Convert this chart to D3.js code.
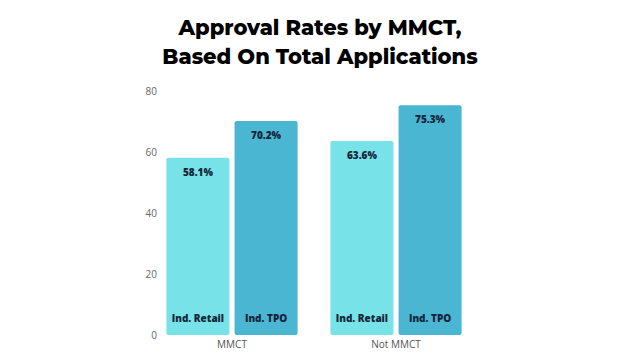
<!DOCTYPE html>
<html>
<head>
<meta charset="utf-8">
<script src="https://cdn.jsdelivr.net/npm/d3@7"></script>
<style>
  body { margin: 0; background: #fff; }
  svg { display: block; }
</style>
</head>
<body>
<svg width="640" height="360"></svg>
<script>
var groups = ["MMCT", "Not MMCT"];
var channels = ["Ind. Retail", "Ind. TPO"];
var retailValues = [58.1, 63.6];
var tpoValues = [70.2, 75.3];
var yTicks = [0, 20, 40, 60, 80];

var colors = { "Ind. Retail": "#77e2e7", "Ind. TPO": "#4ab6d2" };

var data = groups.map(function (g, i) {
  return { group: g, values: [
    { channel: channels[0], value: retailValues[i] },
    { channel: channels[1], value: tpoValues[i] }
  ] };
});

var svg = d3.select("svg");

// title
svg.append("text")
  .attr("x", 320).attr("y", 35)
  .attr("text-anchor", "middle")
  .style("font-family", "Montserrat, 'Open Sans', sans-serif")
  .style("font-weight", "800")
  .style("font-size", "21px")
  .attr("fill", "#000")
  .text("Approval Rates by MMCT,");
svg.append("text")
  .attr("x", 320).attr("y", 64)
  .attr("text-anchor", "middle")
  .style("font-family", "Montserrat, 'Open Sans', sans-serif")
  .style("font-weight", "800")
  .style("font-size", "21px")
  .attr("fill", "#000")
  .text("Based On Total Applications");

var x0 = d3.scaleBand()
  .domain(groups)
  .range([150, 478])
  .paddingInner(0.2)
  .paddingOuter(0.1);

var x1 = d3.scaleBand()
  .domain(channels)
  .range([0, x0.bandwidth()])
  .paddingInner(0.075);

var y = d3.scaleLinear()
  .domain([0, 80])
  .range([335, 91]);

// y axis, no line
var yAxis = svg.append("g")
  .attr("transform", "translate(157,0)")
  .call(d3.axisLeft(y).tickValues(yTicks).tickSize(0).tickPadding(0));
yAxis.select(".domain").remove();
yAxis.selectAll("text")
  .style("font-family", "'Open Sans', sans-serif")
  .style("font-size", "10px")
  .attr("fill", "#666");

// x axis labels
var xAxis = svg.append("g")
  .attr("transform", "translate(0,341)")
  .call(d3.axisBottom(x0).tickSize(0).tickPadding(0));
xAxis.select(".domain").remove();
xAxis.selectAll("text")
  .attr("dy", "0.71em")
  .style("font-family", "'Open Sans', sans-serif")
  .style("font-size", "10px")
  .attr("fill", "#555");

var g = svg.selectAll(".grp")
  .data(data)
  .enter().append("g")
  .attr("class", "grp")
  .attr("transform", function (d) { return "translate(" + x0(d.group) + ",0)"; });

var bar = g.selectAll(".bar")
  .data(function (d) { return d.values; })
  .enter().append("g")
  .attr("class", "bar");

bar.append("rect")
  .attr("x", function (d) { return x1(d.channel); })
  .attr("y", function (d) { return y(d.value); })
  .attr("width", x1.bandwidth())
  .attr("height", function (d) { return y(0) - y(d.value); })
  .attr("rx", 2)
  .attr("fill", function (d) { return colors[d.channel]; });

bar.append("text")
  .attr("x", function (d) { return x1(d.channel) + x1.bandwidth() / 2; })
  .attr("y", function (d) { return y(d.value) + 18; })
  .attr("text-anchor", "middle")
  .style("font-family", "'Open Sans', sans-serif")
  .style("font-weight", "800")
  .style("font-size", "10px")
  .attr("fill", "#14253a")
  .text(function (d) { return d.value.toFixed(1) + "%"; });

bar.append("text")
  .attr("x", function (d) { return x1(d.channel) + x1.bandwidth() / 2; })
  .attr("y", 322)
  .attr("text-anchor", "middle")
  .style("font-family", "'Open Sans', sans-serif")
  .style("font-weight", "800")
  .style("font-size", "10px")
  .attr("fill", "#14253a")
  .text(function (d) { return d.channel; });
</script>
</body>
</html>
